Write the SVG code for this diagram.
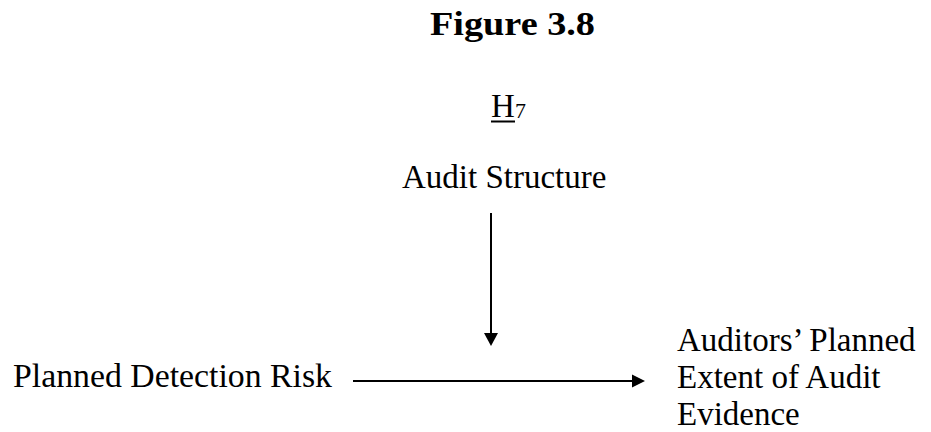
<svg xmlns="http://www.w3.org/2000/svg" width="931" height="432" viewBox="0 0 931 432">
<style>
text{font-family:"Liberation Serif","Times New Roman",serif;fill:#000;font-size:33px}
.b{font-weight:bold}
.ln{stroke:#000;stroke-width:2;fill:none}
.ah{fill:#000}
</style>
<rect width="931" height="432" fill="#fff"/>
<g id="title">
<text class="b" x="430" y="35" textLength="165" lengthAdjust="spacingAndGlyphs">Figure 3.8</text>
</g>
<g id="hypothesis">
<text x="491" y="117">H</text>
<text x="515" y="118" style="font-size:22px">7</text>
<line class="ln" x1="491" y1="121.5" x2="515" y2="121.5"/>
</g>
<g id="audit-structure">
<text x="402" y="188">Audit Structure</text>
</g>
<g id="planned-detection-risk">
<text x="13" y="387" textLength="319" lengthAdjust="spacingAndGlyphs">Planned Detection Risk</text>
</g>
<g id="planned-extent">
<text x="677" y="351">Auditors’ Planned</text>
<text x="677" y="388">Extent of Audit</text>
<text x="677" y="425">Evidence</text>
</g>
<g id="connectors">
<line class="ln" x1="491" y1="213" x2="491" y2="334"/>
<polygon class="ah" points="484,333 498,333 491,346"/>
<line class="ln" x1="353" y1="381" x2="633" y2="381"/>
<polygon class="ah" points="632,374.5 632,387.5 645,381"/>
</g>
</svg>
